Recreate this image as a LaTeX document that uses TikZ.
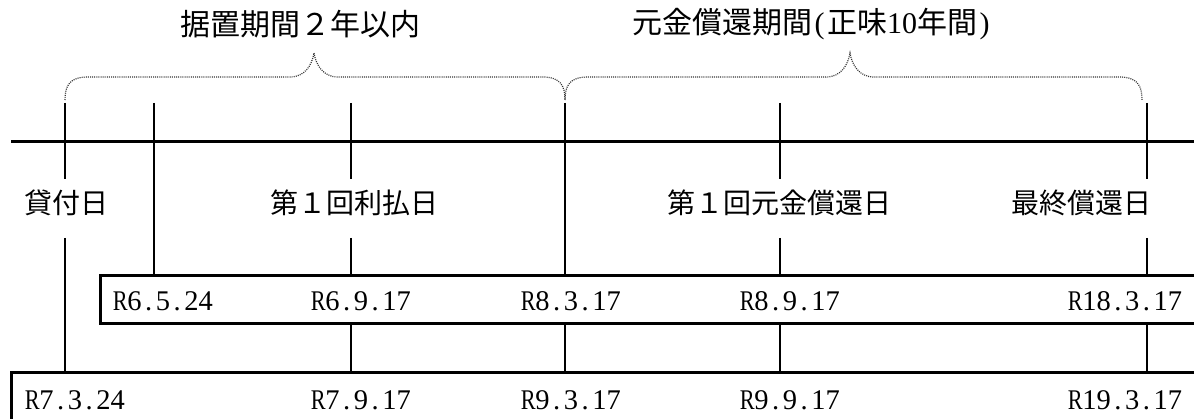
\documentclass[tikz,border=0pt]{standalone}
\usepackage{fontspec}
\setmainfont{Liberation Serif}
\newfontfamily\jp{Noto Sans CJK JP}
\newcommand\narrowR{\scalebox{0.78}[1]{R}}
\def\hwloop#1{\ifx#1\relax\else\makebox[0.5em][c]{#1}\expandafter\hwloop\fi}
\newcommand\dt[1]{\hwloop#1\relax}
\begin{document}
\begin{tikzpicture}[x=1pt,y=-1pt,
  axis/.style={line width=3pt},
  tickline/.style={line width=2.6pt},
  boxline/.style={line width=3pt},
  bracepath/.style={line width=1.2pt, dash pattern=on 1pt off 1.1pt, black!80},
  lbl/.style={inner sep=0pt, font=\fontsize{28}{30}\selectfont\jp},
  ttl/.style={inner sep=0pt, font=\fontsize{30}{32}\selectfont},
  datelbl/.style={inner sep=0pt, anchor=west, font=\fontsize{28.5}{30}\selectfont}]
\useasboundingbox (0,0) rectangle (1194,419);

% main time axis
\coordinate (axL) at (11,142);
\coordinate (axR) at (1200,142);
\draw[axis] (axL) -- (axR);

% boxes (open to the right / bottom)
\coordinate (ub1) at (1200,276);
\coordinate (ub2) at (100,276);
\coordinate (ub3) at (100,324);
\coordinate (ub4) at (1200,324);
\draw[boxline] (ub1) -- (ub2) -- (ub3) -- (ub4);
\coordinate (lb1) at (1200,373);
\coordinate (lb2) at (11,373);
\coordinate (lb3) at (11,430);
\draw[boxline] (lb1) -- (lb2) -- (lb3);

% vertical lines
\draw[tickline] (65,103) -- (65,179);
\draw[tickline] (65,238) -- (65,373);
\draw[tickline] (154,103) -- (154,276);
\draw[tickline] (565,103) -- (565,276);
\draw[tickline] (565,324) -- (565,373);
\foreach \x in {351,780,1147}{
  \draw[tickline] (\x,103) -- (\x,179);
  \draw[tickline] (\x,238) -- (\x,276);
  \draw[tickline] (\x,324) -- (\x,373);
}

% labels
\node[lbl] (l1) at (66,203) {貸付日};
\node[lbl] (l2) at (354,203) {第１回利払日};
\node[lbl] (l3) at (779,203) {第１回元金償還日};
\node[lbl, anchor=east] (l4) at (1152,203) {最終償還日};

% titles
\node[ttl] (t1) at (300,24) {\jp 据置期間２年以内};
\node[ttl] (t2) at (812,24) {{\jp 元金償還期間}\dt{(}{\jp 正味}\dt{10}{\jp 年間}\dt{)}};

% braces
\draw[bracepath] (65,100) .. controls (65,85) and (70,77) .. (88,77) -- (290,77)
  .. controls (305,77) and (312,65) .. (314,53)
  .. controls (316,65) and (323,77) .. (338,77) -- (542,77)
  .. controls (560,77) and (565,85) .. (565,100);
\draw[bracepath] (565,100) .. controls (565,85) and (570,77) .. (588,77) -- (826,77)
  .. controls (841,77) and (848,65) .. (850,53)
  .. controls (852,65) and (859,77) .. (874,77) -- (1119,77)
  .. controls (1137,77) and (1142,85) .. (1142,100);

% dates upper
\node[datelbl] (u1) at (113,301) {\dt{\narrowR6.5.24}};
\node[datelbl] (u2) at (311,301) {\dt{\narrowR6.9.17}};
\node[datelbl] (u3) at (521,301) {\dt{\narrowR8.3.17}};
\node[datelbl] (u4) at (740,301) {\dt{\narrowR8.9.17}};
\node[datelbl] (u5) at (1068,301) {\dt{\narrowR18.3.17}};
% dates lower
\node[datelbl] (d1) at (25,400) {\dt{\narrowR7.3.24}};
\node[datelbl] (d2) at (311,400) {\dt{\narrowR7.9.17}};
\node[datelbl] (d3) at (521,400) {\dt{\narrowR9.3.17}};
\node[datelbl] (d4) at (740,400) {\dt{\narrowR9.9.17}};
\node[datelbl] (d5) at (1068,400) {\dt{\narrowR19.3.17}};
\end{tikzpicture}
\end{document}
